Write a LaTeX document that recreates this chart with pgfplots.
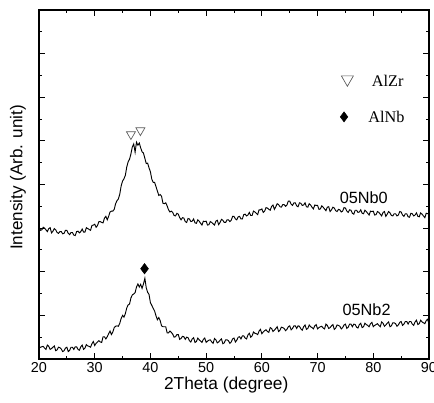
\documentclass[border=0pt]{standalone}
\usepackage{pgfplots}
\pgfplotsset{compat=1.18}
\usepackage{fontspec}
\setmainfont{Liberation Sans}
\newfontfamily\timesfont{Liberation Serif}
\usetikzlibrary{calc}

\begin{document}
\begin{tikzpicture}
\begin{axis}[
  scale only axis,
  width=292.5pt, height=261.75pt,
  xmin=20, xmax=90, ymin=0, ymax=8,
  xtick={20,30,...,90}, minor x tick num=1,
  ytick={0,1,...,8}, minor y tick num=1, yticklabel=\empty,
  tick align=inside, tick pos=both, xticklabel pos=lower,
  major tick length=4.2pt, minor tick length=2.3pt,
  axis line style={line width=0.9pt},
  tick style={line width=0.7pt, black},
  /pgf/number format/assume math mode=true,
  tick label style={font=\fontsize{10.8}{12}\selectfont},
  xticklabel style={inner sep=2.6pt},
  xlabel={2Theta (degree)},
  xlabel style={font=\fontsize{13}{15}\selectfont, at={(axis description cs:0.48,0)}, anchor=center, yshift=-19.8pt},
  ylabel={Intensity (Arb. unit)},
  ylabel style={font=\fontsize{12.8}{14}\selectfont, at={(axis description cs:0,0.52)}, anchor=center, yshift=15.75pt},
]
\coordinate (sw) at (rel axis cs:0,0);
\coordinate (ne) at (rel axis cs:1,1);

% 05Nb0
\addplot[black, line width=0.7pt] table {
20 3.04
20.25 2.95
20.5 2.96
20.75 3.02
21 3.00
21.25 2.96
21.5 2.92
21.75 2.99
22 3.01
22.25 2.89
22.5 2.93
22.75 2.99
23 2.96
23.25 2.90
23.5 2.88
23.75 2.92
24 2.92
24.25 2.87
24.5 2.88
24.75 2.95
25 2.95
25.25 2.88
25.5 2.85
25.75 2.90
26 2.90
26.25 2.84
26.5 2.83
26.75 2.92
27 2.93
27.25 2.89
27.5 2.92
27.75 2.98
28 2.91
28.25 2.91
28.5 3.01
28.75 2.99
29 2.97
29.25 2.95
29.5 3.06
29.75 3.07
30 3.09
30.25 3.02
30.5 3.06
30.75 3.15
31 3.15
31.25 3.13
31.5 3.12
31.75 3.23
32 3.27
32.25 3.19
32.5 3.27
32.75 3.37
33 3.39
33.25 3.39
33.5 3.43
33.75 3.56
34 3.63
34.25 3.67
34.5 3.78
34.75 3.97
35 4.08
35.25 4.13
35.5 4.21
35.75 4.40
36 4.52
36.25 4.58
36.5 4.70
36.75 4.86
37 4.93
37.25 4.74
37.5 4.97
37.75 4.90
38 4.95
38.25 4.84
38.5 4.75
38.75 4.72
39 4.60
39.25 4.48
39.5 4.49
39.75 4.38
40 4.29
40.25 4.12
40.5 4.05
40.75 4.05
41 3.95
41.25 3.85
41.5 3.75
41.75 3.77
42 3.73
42.25 3.57
42.5 3.56
42.75 3.58
43 3.51
43.25 3.42
43.5 3.37
43.75 3.39
44 3.36
44.25 3.29
44.5 3.28
44.75 3.34
45 3.32
45.25 3.24
45.5 3.19
45.75 3.24
46 3.23
46.25 3.15
46.5 3.13
46.75 3.22
47 3.21
47.25 3.15
47.5 3.16
47.75 3.21
48 3.12
48.25 3.11
48.5 3.19
48.75 3.16
49 3.11
49.25 3.07
49.5 3.16
49.75 3.15
50 3.16
50.25 3.07
50.5 3.08
50.75 3.15
51 3.13
51.25 3.10
51.5 3.07
51.75 3.16
52 3.18
52.25 3.08
52.5 3.13
52.75 3.20
53 3.18
53.25 3.13
53.5 3.13
53.75 3.19
54 3.19
54.25 3.15
54.5 3.18
54.75 3.27
55 3.27
55.25 3.21
55.5 3.19
55.75 3.26
56 3.27
56.25 3.21
56.5 3.21
56.75 3.31
57 3.32
57.25 3.28
57.5 3.30
57.75 3.36
58 3.29
58.25 3.29
58.5 3.39
58.75 3.37
59 3.34
59.25 3.31
59.5 3.42
59.75 3.42
60 3.44
60.25 3.36
60.5 3.39
60.75 3.47
61 3.46
61.25 3.43
61.5 3.41
61.75 3.50
62 3.53
62.25 3.43
62.5 3.49
62.75 3.56
63 3.54
63.25 3.49
63.5 3.48
63.75 3.54
64 3.54
64.25 3.50
64.5 3.53
64.75 3.62
65 3.62
65.25 3.55
65.5 3.52
65.75 3.58
66 3.58
66.25 3.51
66.5 3.49
66.75 3.58
67 3.57
67.25 3.52
67.5 3.53
67.75 3.58
68 3.49
68.25 3.48
68.5 3.56
68.75 3.53
69 3.48
69.25 3.44
69.5 3.53
69.75 3.52
70 3.52
70.25 3.43
70.5 3.44
70.75 3.51
71 3.48
71.25 3.44
71.5 3.40
71.75 3.48
72 3.49
72.25 3.38
72.5 3.42
72.75 3.48
73 3.46
73.25 3.40
73.5 3.38
73.75 3.43
74 3.42
74.25 3.37
74.5 3.39
74.75 3.47
75 3.46
75.25 3.39
75.5 3.36
75.75 3.42
76 3.41
76.25 3.34
76.5 3.32
76.75 3.41
77 3.41
77.25 3.36
77.5 3.37
77.75 3.42
78 3.34
78.25 3.33
78.5 3.41
78.75 3.38
79 3.34
79.25 3.30
79.5 3.39
79.75 3.38
80 3.39
80.25 3.30
80.5 3.31
80.75 3.38
81 3.36
81.25 3.32
81.5 3.28
81.75 3.36
82 3.38
82.25 3.27
82.5 3.32
82.75 3.38
83 3.35
83.25 3.29
83.5 3.28
83.75 3.33
84 3.33
84.25 3.28
84.5 3.30
84.75 3.38
85 3.37
85.25 3.30
85.5 3.27
85.75 3.33
86 3.33
86.25 3.26
86.5 3.25
86.75 3.34
87 3.33
87.25 3.28
87.5 3.30
87.75 3.35
88 3.27
88.25 3.26
88.5 3.35
88.75 3.32
89 3.28
89.25 3.24
89.5 3.34
89.75 3.33
90 3.34
};

% 05Nb2
\addplot[black, line width=0.7pt] table {
20 0.24
20.25 0.27
20.5 0.28
20.75 0.29
21 0.25
21.25 0.22
21.5 0.32
21.75 0.29
22 0.22
22.25 0.24
22.5 0.27
22.75 0.30
23 0.19
23.25 0.21
23.5 0.27
23.75 0.26
24 0.23
24.25 0.17
24.5 0.19
24.75 0.25
25 0.27
25.25 0.17
25.5 0.20
25.75 0.27
26 0.27
26.25 0.22
26.5 0.28
26.75 0.28
27 0.22
27.25 0.20
27.5 0.28
27.75 0.32
28 0.22
28.25 0.25
28.5 0.33
28.75 0.30
29 0.29
29.25 0.27
29.5 0.35
29.75 0.40
30 0.31
30.25 0.36
30.5 0.39
30.75 0.42
31 0.39
31.25 0.38
31.5 0.51
31.75 0.51
32 0.46
32.25 0.51
32.5 0.58
32.75 0.64
33 0.56
33.25 0.62
33.5 0.72
33.75 0.75
34 0.76
34.25 0.75
34.5 0.82
34.75 0.93
35 1.00
35.25 0.96
35.5 1.04
35.75 1.17
36 1.24
36.25 1.26
36.5 1.40
36.75 1.47
37 1.49
37.25 1.52
37.5 1.65
37.75 1.72
38 1.65
38.25 1.71
38.5 1.62
38.75 1.72
39 1.85
39.25 1.63
39.5 1.53
39.75 1.48
40 1.29
40.25 1.23
40.5 1.16
40.75 1.10
41 0.99
41.25 0.90
41.5 0.95
41.75 0.88
42 0.76
42.25 0.74
42.5 0.74
42.75 0.74
43 0.60
43.25 0.60
43.5 0.64
43.75 0.61
44 0.57
44.25 0.50
44.5 0.51
44.75 0.56
45 0.56
45.25 0.45
45.5 0.47
45.75 0.52
46 0.51
46.25 0.45
46.5 0.50
46.75 0.49
47 0.42
47.25 0.39
47.5 0.46
47.75 0.49
48 0.38
48.25 0.40
48.5 0.48
48.75 0.44
49 0.41
49.25 0.38
49.5 0.45
49.75 0.48
50 0.38
50.25 0.41
50.5 0.43
50.75 0.44
51 0.39
51.25 0.36
51.5 0.47
51.75 0.44
52 0.37
52.25 0.39
52.5 0.43
52.75 0.46
53 0.35
53.25 0.37
53.5 0.44
53.75 0.44
54 0.42
54.25 0.36
54.5 0.39
54.75 0.46
55 0.48
55.25 0.39
55.5 0.43
55.75 0.50
56 0.51
56.25 0.46
56.5 0.53
56.75 0.53
57 0.48
57.25 0.46
57.5 0.55
57.75 0.59
58 0.50
58.25 0.53
58.5 0.62
58.75 0.59
59 0.58
59.25 0.56
59.5 0.64
59.75 0.68
60 0.58
60.25 0.62
60.5 0.65
60.75 0.67
61 0.63
61.25 0.61
61.5 0.72
61.75 0.70
62 0.63
62.25 0.66
62.5 0.70
62.75 0.74
63 0.63
63.25 0.66
63.5 0.73
63.75 0.72
64 0.70
64.25 0.65
64.5 0.68
64.75 0.74
65 0.76
65.25 0.67
65.5 0.70
65.75 0.76
66 0.76
66.25 0.70
66.5 0.76
66.75 0.75
67 0.69
67.25 0.66
67.5 0.74
67.75 0.78
68 0.68
68.25 0.70
68.5 0.78
68.75 0.74
69 0.72
69.25 0.69
69.5 0.76
69.75 0.79
70 0.69
70.25 0.72
70.5 0.74
70.75 0.75
71 0.71
71.25 0.69
71.5 0.80
71.75 0.77
72 0.70
72.25 0.72
72.5 0.76
72.75 0.79
73 0.68
73.25 0.71
73.5 0.78
73.75 0.77
74 0.75
74.25 0.69
74.5 0.72
74.75 0.78
75 0.80
75.25 0.70
75.5 0.73
75.75 0.80
76 0.80
76.25 0.74
76.5 0.80
76.75 0.79
77 0.73
77.25 0.71
77.5 0.79
77.75 0.82
78 0.72
78.25 0.74
78.5 0.82
78.75 0.79
79 0.77
79.25 0.74
79.5 0.81
79.75 0.84
80 0.74
80.25 0.77
80.5 0.79
80.75 0.81
81 0.77
81.25 0.74
81.5 0.85
81.75 0.82
82 0.75
82.25 0.78
82.5 0.82
82.75 0.85
83 0.74
83.25 0.76
83.5 0.83
83.75 0.83
84 0.81
84.25 0.75
84.5 0.78
84.75 0.84
85 0.86
85.25 0.77
85.5 0.80
85.75 0.86
86 0.86
86.25 0.80
86.5 0.86
86.75 0.86
87 0.80
87.25 0.77
87.5 0.85
87.75 0.89
88 0.79
88.25 0.81
88.5 0.89
88.75 0.85
89 0.83
89.25 0.81
89.5 0.88
89.75 0.91
90 0.81
};

% peak markers
\addplot[only marks, mark=triangle, mark size=3.9pt, mark options={rotate=180, draw=black!65, fill=white, line width=0.5pt}]
  coordinates {(36.5,5.15) (38.2,5.24)};
\addplot[only marks, mark=diamond*, mark size=3.9pt, mark options={black}]
  coordinates {(38.94,2.07)};

% key
\addplot[only marks, mark=triangle, mark size=5.2pt, mark options={rotate=180, draw=black!65, fill=white, line width=0.5pt}]
  coordinates {(75.35,6.41)};
\addplot[only marks, mark=diamond*, mark size=3.75pt, mark options={black}]
  coordinates {(74.75,5.55)};
\node[anchor=west, inner sep=0pt, font=\timesfont\fontsize{12.2}{14}\selectfont] at (axis cs:79.7,6.38) {AlZr};
\node[anchor=west, inner sep=0pt, font=\timesfont\fontsize{12.2}{14}\selectfont] at (axis cs:79.05,5.55) {AlNb};

\node[font=\fontsize{12.2}{14}\selectfont, inner sep=0pt] at (axis cs:78.3,3.69) {05Nb0};
\node[font=\fontsize{12.2}{14}\selectfont, inner sep=0pt] at (axis cs:78.8,1.12) {05Nb2};
\end{axis}
\pgfresetboundingbox
\path[use as bounding box] ($(sw)+(-29.25pt,-32.25pt)$) rectangle ($(ne)+(3.75pt,7.5pt)$);
\end{tikzpicture}
\end{document}
